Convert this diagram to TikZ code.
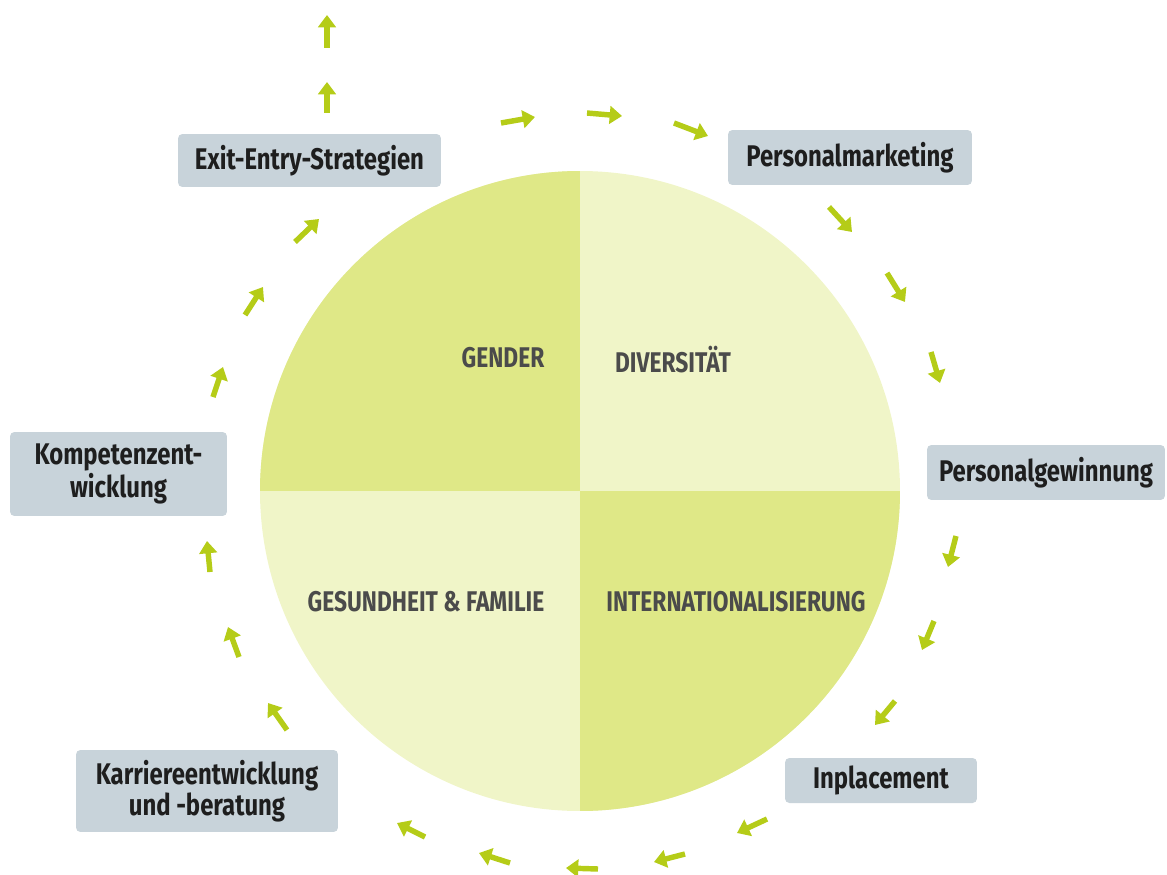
\documentclass[tikz,border=0pt]{standalone}
\usepackage{fontspec}
\setmainfont{Fira Sans}[FakeStretch=0.8]
\usetikzlibrary{arrows.meta, positioning}
\definecolor{lime}{RGB}{181,204,24}
\definecolor{leafdark}{RGB}{223,232,135}
\definecolor{leaflight}{RGB}{240,245,200}
\definecolor{slate}{RGB}{200,211,218}
\definecolor{ink}{RGB}{30,30,30}
\definecolor{graytext}{RGB}{75,75,75}
\tikzset{
  stage/.style = {fill=slate, rounded corners=2.5pt, align=center, text=ink, inner sep=0pt,
                  font=\bfseries\fontsize{17}{17.5}\selectfont},
  field/.style = {text=graytext, font=\bfseries\fontsize{16.2}{18}\selectfont},
  flow/.style  = {draw=lime, line width=3.1pt, -{Triangle[length=7pt, width=10pt]}}
}

\begin{document}
\begin{tikzpicture}[x=0.02cm, y=-0.02cm]

\useasboundingbox (0,0) rectangle (1167,875);

% circle in four quarters
\begin{scope}
  \clip (580,491) circle (320);
  \fill [leaflight] (260,171) rectangle (900,811);
  \fill [leafdark]  (260,171) rectangle (580,491);
  \fill [leafdark]  (580,491) rectangle (900,811);
\end{scope}

\node [field] at (503,358) (gender)    {GENDER};
\node [field] at (673,360) (diversity) {DIVERSITÄT};
\node [field] at (426,602) (health)    {GESUNDHEIT \& FAMILIE};
\node [field] at (736,602) (intl)      {INTERNATIONALISIERUNG};

% stages round the circle
\node [stage, minimum width=5.26cm, minimum height=1.06cm] at ( 309.5, 160.5) (exit)        {Exit-Entry-Strategien};
\node [stage, minimum width=4.88cm, minimum height=1.10cm] at ( 850  , 157.5) (marketing)   {Personalmarketing};
\node [stage, minimum width=4.76cm, minimum height=1.10cm] at (1046  , 472.5) (recruiting)  {Personalgewinnung};
\node [stage, minimum width=3.84cm, minimum height=0.90cm] at ( 881  , 780.5) (inplacement) {Inplacement};
\node [stage, minimum width=5.24cm, minimum height=1.64cm] at ( 207  , 791  ) (career)      {Karriereentwicklung\\und -beratung};
\node [stage, minimum width=4.34cm, minimum height=1.68cm] at ( 118.5, 474  ) (skills)      {Kompetenzent-\\wicklung};

% arrows (tail / tip)
\foreach \ax/\ay/\bx/\by in {
    327/113/327/82,   327/48/327/15,
    501/123/535/117,  587/113/622/116,  674/123/708/136,
    829/207/852/232,  887/273/905/302,  931/352/940/383,
    956/536/948/567,  934/621/922/650,  895/701/875/725,
    767/819/737/833,  685/854/654/862,  598/869/566/868,
    510/863/479/853,  425/837/397/823,
    287/730/268/703,  239/657/228/627,  210/572/207/541,
    213/397/223/367,  245/315/263/287,  295/242/319/219}
  \draw [flow] (\ax,\ay) -- (\bx,\by);

\end{tikzpicture}
\end{document}
